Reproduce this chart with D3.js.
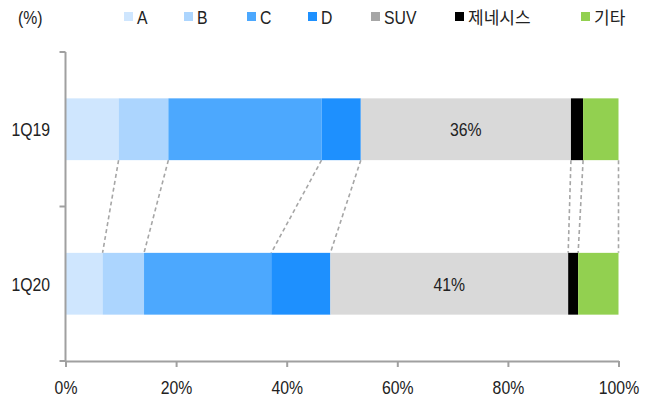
<!DOCTYPE html>
<meta charset="utf-8">
<style>
  body { margin: 0; }
  text { font-family: "Liberation Sans", Arial, "Noto Sans CJK KR", sans-serif; fill: #222; }
</style>
<svg width="645" height="399"></svg>
<script src="https://d3js.org/d3.v7.min.js"></script>
<script>

var periods = ["1Q19", "1Q20"],
    segments = ["A", "B", "C", "D", "SUV", "제네시스", "기타"];

// share of each segment (%)
var share1Q19 = [9.6, 9.0, 27.7, 7.1, 38.0, 2.2, 6.4],
    share1Q20 = [6.7, 7.5, 23.0, 10.7, 43.0, 1.8, 7.3];

var suvLabels = ["36%", "41%"];
var xTicks = [0, 20, 40, 60, 80, 100];

var barColors = ["#cfe6fe", "#acd5fe", "#4ca8fe", "#1e90fe", "#d9d9d9", "#000000", "#92d050"],
    swatchColors = ["#cfe6fe", "#acd5fe", "#4ca8fe", "#1e90fe", "#a6a6a6", "#000000", "#92d050"],
    axisColor = "#a0a0a0",
    fs = 19;

// the original uses a narrow face: squeeze latin text horizontally
function narrow(sel) {
  sel.each(function() {
    if (/[\uac00-\ud7a3]/.test(this.textContent)) return;
    var w = this.getComputedTextLength();
    d3.select(this).attr("textLength", w * 0.83).attr("lengthAdjust", "spacingAndGlyphs");
  });
}

var svg = d3.select("svg");

var x = d3.scaleLinear().domain([0, 100]).range([65.5, 618.5]);
var y = d3.scaleBand().domain(periods).range([52, 361])
    .paddingInner(0.6).paddingOuter(0.3);

var rows = [share1Q19, share1Q20].map(function(vals, i) {
  var acc = 0;
  return vals.map(function(v, j) {
    var d = { period: periods[i], seg: j, x0: acc, x1: acc + v };
    acc += v;
    return d;
  });
});

// dashed connectors between the bars
var upper = rows[0], lower = rows[1];
svg.append("g").selectAll("line")
  .data(d3.range(segments.length))
  .join("line")
    .attr("x1", function(j) { return x(upper[j].x1); })
    .attr("x2", function(j) { return x(lower[j].x1); })
    .attr("y1", y("1Q19") + y.bandwidth())
    .attr("y2", y("1Q20"))
    .attr("stroke", "#a6a6a6")
    .attr("stroke-width", 1.6)
    .attr("stroke-dasharray", "4,3");

// bars
svg.append("g").selectAll("g")
  .data(rows)
  .join("g")
  .selectAll("rect")
  .data(function(d) { return d; })
  .join("rect")
    .attr("x", function(d) { return x(d.x0); })
    .attr("width", function(d) { return x(d.x1) - x(d.x0); })
    .attr("y", function(d) { return y(d.period); })
    .attr("height", y.bandwidth())
    .attr("fill", function(d) { return barColors[d.seg]; });

// SUV labels
svg.append("g").selectAll("text")
  .data(rows)
  .join("text")
    .attr("x", function(r) { return x((r[4].x0 + r[4].x1) / 2); })
    .attr("y", function(r) { return y(r[0].period) + y.bandwidth() / 2 + 7; })
    .attr("text-anchor", "middle")
    .attr("font-size", fs)
    .text(function(r, i) { return suvLabels[i]; })
    .call(narrow);

// y axis
var yAxis = svg.append("g");
yAxis.append("line")
  .attr("x1", x(0)).attr("x2", x(0))
  .attr("y1", y.range()[0]).attr("y2", y.range()[1])
  .attr("stroke", axisColor).attr("stroke-width", 2);
var yTickPos = [y.range()[0], y("1Q20") - y.step() * y.paddingInner() / 2, y.range()[1]];
yAxis.selectAll(".tk").data(yTickPos).join("line")
  .attr("x1", x(0) - 6).attr("x2", x(0))
  .attr("y1", function(d) { return d; }).attr("y2", function(d) { return d; })
  .attr("stroke", axisColor).attr("stroke-width", 2);
yAxis.selectAll("text").data(periods).join("text")
  .attr("x", 50)
  .attr("y", function(d) { return y(d) + y.bandwidth() / 2 + 7; })
  .attr("text-anchor", "end")
  .attr("font-size", fs)
  .text(function(d) { return d; })
  .call(narrow);

// x axis
var xAxis = svg.append("g").attr("transform", "translate(0,361)")
  .call(d3.axisBottom(x).tickValues(xTicks).tickSize(6).tickSizeOuter(0)
    .tickFormat(function(d) { return d + "%"; }));
xAxis.select(".domain").attr("stroke", axisColor).attr("stroke-width", 2);
xAxis.selectAll(".tick line").attr("stroke", axisColor).attr("stroke-width", 2);
xAxis.selectAll(".tick text")
  .attr("font-size", fs).attr("font-family", null).attr("fill", "#222").attr("dy", null).attr("y", 33)
  .call(narrow);

// legend
svg.append("text").attr("x", 18).attr("y", 24).attr("font-size", fs).text("(%)").call(narrow);
var legendX = [124, 184, 247, 308, 371, 455, 581];
var legend = svg.append("g").selectAll("g")
  .data(segments)
  .join("g")
    .attr("transform", function(d, i) { return "translate(" + legendX[i] + ",0)"; });
legend.append("rect")
  .attr("y", 12).attr("width", 9).attr("height", 9)
  .attr("fill", function(d, i) { return swatchColors[i]; });
legend.append("text")
  .attr("x", 13).attr("y", 24)
  .attr("font-size", function(d) { return /[\uac00-\ud7a3]/.test(d) ? 17 : fs; })
  .text(function(d) { return d; })
  .call(narrow);

</script>
